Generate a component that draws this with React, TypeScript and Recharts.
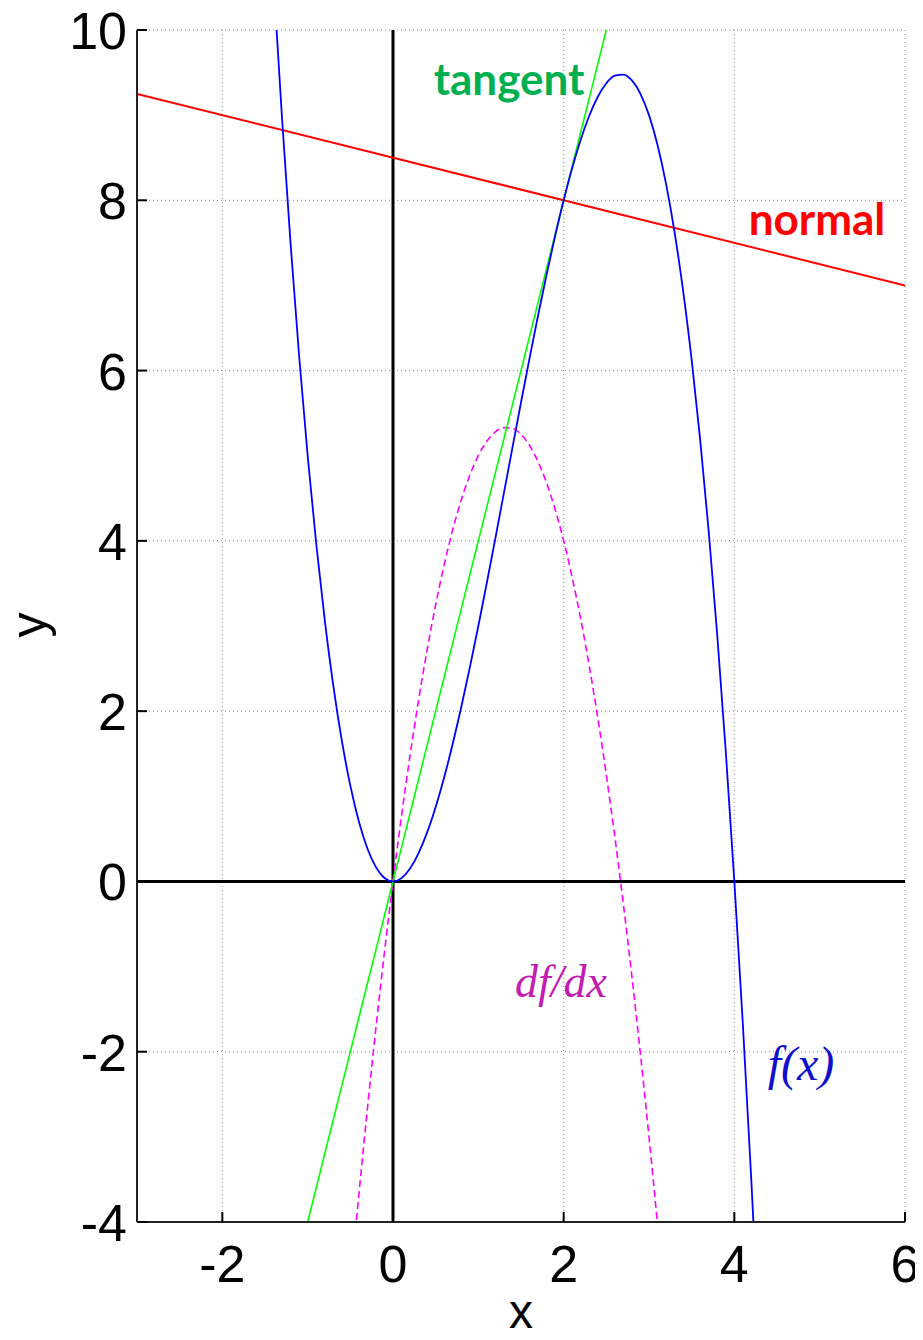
import React from 'react';
import { LineChart, Line, XAxis, YAxis, CartesianGrid, ReferenceLine } from 'recharts';

const xTicks = [-2, 0, 2, 4, 6];
const yTicks = [-4, -2, 0, 2, 4, 6, 8, 10];

// f(x) samples
const fX = [-1.4, -1.3, -1.2, -1.1, -1.0, -0.9, -0.8, -0.7, -0.6, -0.5, -0.4, -0.3, -0.2, -0.1, 0, 0.1, 0.2, 0.3, 0.4, 0.5, 0.6, 0.7, 0.8, 0.9, 1.0, 1.1, 1.2, 1.3, 1.4, 1.5, 1.6, 1.7, 1.8, 1.9, 2.0, 2.1, 2.2, 2.3, 2.4, 2.5, 2.6, 2.7, 2.8, 2.9, 3.0, 3.1, 3.2, 3.3, 3.4, 3.5, 3.6, 3.7, 3.8, 3.9, 4.0, 4.1, 4.2, 4.3];
const fY = [10.584, 8.957, 7.488, 6.171, 5, 3.969, 3.072, 2.303, 1.656, 1.125, 0.704, 0.387, 0.168, 0.041, 0, 0.039, 0.152, 0.333, 0.576, 0.875, 1.224, 1.617, 2.048, 2.511, 3, 3.509, 4.032, 4.563, 5.096, 5.625, 6.144, 6.647, 7.128, 7.581, 8, 8.379, 8.712, 8.993, 9.216, 9.375, 9.464, 9.477, 9.408, 9.251, 9, 8.649, 8.192, 7.623, 6.936, 6.125, 5.184, 4.107, 2.888, 1.521, 0, -1.681, -3.528, -5.547];

// df/dx samples
const dX = [-0.5, -0.4, -0.3, -0.2, -0.1, 0, 0.1, 0.2, 0.3, 0.4, 0.5, 0.6, 0.7, 0.8, 0.9, 1.0, 1.1, 1.2, 1.3, 1.4, 1.5, 1.6, 1.7, 1.8, 1.9, 2.0, 2.1, 2.2, 2.3, 2.4, 2.5, 2.6, 2.7, 2.8, 2.9, 3.0, 3.1, 3.2];
const dY = [-4.75, -3.68, -2.67, -1.72, -0.83, 0, 0.77, 1.48, 2.13, 2.72, 3.25, 3.72, 4.13, 4.48, 4.77, 5, 5.17, 5.28, 5.33, 5.32, 5.25, 5.12, 4.93, 4.68, 4.37, 4, 3.57, 3.08, 2.53, 1.92, 1.25, 0.52, -0.27, -1.12, -2.03, -3, -4.03, -5.12];

// tangent line endpoints
const tX = [-1.5, 3];
const tY = [-6, 12];

// normal line endpoints
const nX = [-3, 6];
const nY = [9.25, 7];

const zip = (xs: number[], ys: number[]) => xs.map((x, i) => ({ x, y: ys[i] }));
const fData = zip(fX, fY);
const dData = zip(dX, dY);
const tData = zip(tX, tY);
const nData = zip(nX, nY);

const W = 923;
const H = 1340;
const FONT = 'Arial, "Liberation Sans", sans-serif';
const TICK_LEN = 10;

const BottomTick = (p: any) => (
  <g>
    <line x1={p.x} x2={p.x} y1={p.y} y2={p.y - TICK_LEN} stroke="#000" strokeWidth={2} />
    <text x={p.x} y={p.y + 60} textAnchor="middle" fontSize={52} fontFamily={FONT} fill="#000">
      {p.payload.value}
    </text>
  </g>
);
const TopTick = (p: any) => (
  <line x1={p.x} x2={p.x} y1={p.y} y2={p.y + TICK_LEN} stroke="#000" strokeWidth={2} />
);
const LeftTick = (p: any) => (
  <g>
    <line x1={p.x} x2={p.x + TICK_LEN} y1={p.y} y2={p.y} stroke="#000" strokeWidth={2} />
    <text x={p.x - 10} y={p.y + 19} textAnchor="end" fontSize={52} fontFamily={FONT} fill="#000">
      {p.payload.value}
    </text>
  </g>
);
const RightTick = (p: any) => (
  <line x1={p.x} x2={p.x - TICK_LEN} y1={p.y} y2={p.y} stroke="#000" strokeWidth={2} />
);

export default function App() {
  return (
    <div style={{ position: 'relative', width: W, height: H, margin: -8, overflow: 'hidden' }}>
      <LineChart width={W} height={H} margin={{ top: 30, right: 18, bottom: 0, left: 0 }}>
        <CartesianGrid stroke="#8a8a8a" strokeDasharray="1 3" strokeWidth={1} />
        <XAxis
          type="number"
          dataKey="x"
          domain={[-3, 6]}
          ticks={xTicks}
          interval={0}
          allowDataOverflow
          height={118}
          tickSize={0}
          tickMargin={0}
          tickLine={false}
          tick={BottomTick}
          axisLine={{ stroke: '#222', strokeWidth: 2 }}
        />
        <XAxis
          xAxisId="top"
          orientation="top"
          type="number"
          dataKey="x"
          domain={[-3, 6]}
          ticks={xTicks}
          interval={0}
          allowDataOverflow
          height={0}
          tickSize={0}
          tickMargin={0}
          tickLine={false}
          tick={TopTick}
          axisLine={{ stroke: '#222', strokeWidth: 2 }}
        />
        <YAxis
          type="number"
          domain={[-4, 10]}
          ticks={yTicks}
          interval={0}
          allowDataOverflow
          width={137}
          tickSize={0}
          tickMargin={0}
          tickLine={false}
          tick={LeftTick}
          axisLine={{ stroke: '#222', strokeWidth: 2 }}
        />
        <YAxis
          yAxisId="right"
          orientation="right"
          type="number"
          domain={[-4, 10]}
          ticks={yTicks}
          interval={0}
          allowDataOverflow
          width={0}
          tickSize={0}
          tickMargin={0}
          tickLine={false}
          tick={RightTick}
          axisLine={{ stroke: '#222', strokeWidth: 2 }}
        />
        <ReferenceLine x={0} stroke="#000" strokeWidth={3} />
        <ReferenceLine y={0} stroke="#000" strokeWidth={3} />
        <Line data={nData} dataKey="y" type="linear" stroke="#ff0000" strokeWidth={2} dot={false} activeDot={false} isAnimationActive={false} />
        <Line data={dData} dataKey="y" type="monotone" stroke="#ff00ff" strokeWidth={1.6} strokeDasharray="7 4" dot={false} activeDot={false} isAnimationActive={false} />
        <Line data={tData} dataKey="y" type="linear" stroke="#00ff00" strokeWidth={1.6} dot={false} activeDot={false} isAnimationActive={false} />
        <Line data={fData} dataKey="y" type="monotone" stroke="#0000ff" strokeWidth={1.8} dot={false} activeDot={false} isAnimationActive={false} />
      </LineChart>
      <svg width={W} height={H} style={{ position: 'absolute', left: 0, top: 0, pointerEvents: 'none' }}>
        <text x={46} y={625} transform="rotate(-90 46 625)" textAnchor="middle" fontSize={50} fontFamily={FONT} fill="#000">y</text>
        <text x={521} y={1328} textAnchor="middle" fontSize={48} fontFamily={FONT} fill="#000">x</text>
        <text x={509} y={95} textAnchor="middle" fontSize={44} fontWeight="bold" fontFamily='Lato, "Open Sans", sans-serif' fill="#00b050">tangent</text>
        <text x={817} y={235} textAnchor="middle" fontSize={44} fontWeight="bold" fontFamily='Lato, "Open Sans", sans-serif' fill="#ff0000">normal</text>
        <text x={561} y={997} textAnchor="middle" fontSize={46} fontStyle="italic" fontFamily='"Times New Roman", "Liberation Serif", serif' fill="#c21db2">df/dx</text>
        <text x={801} y={1080} textAnchor="middle" fontSize={48} fontStyle="italic" fontFamily='"Times New Roman", "Liberation Serif", serif' fill="#1010cc">f(x)</text>
      </svg>
    </div>
  );
}
